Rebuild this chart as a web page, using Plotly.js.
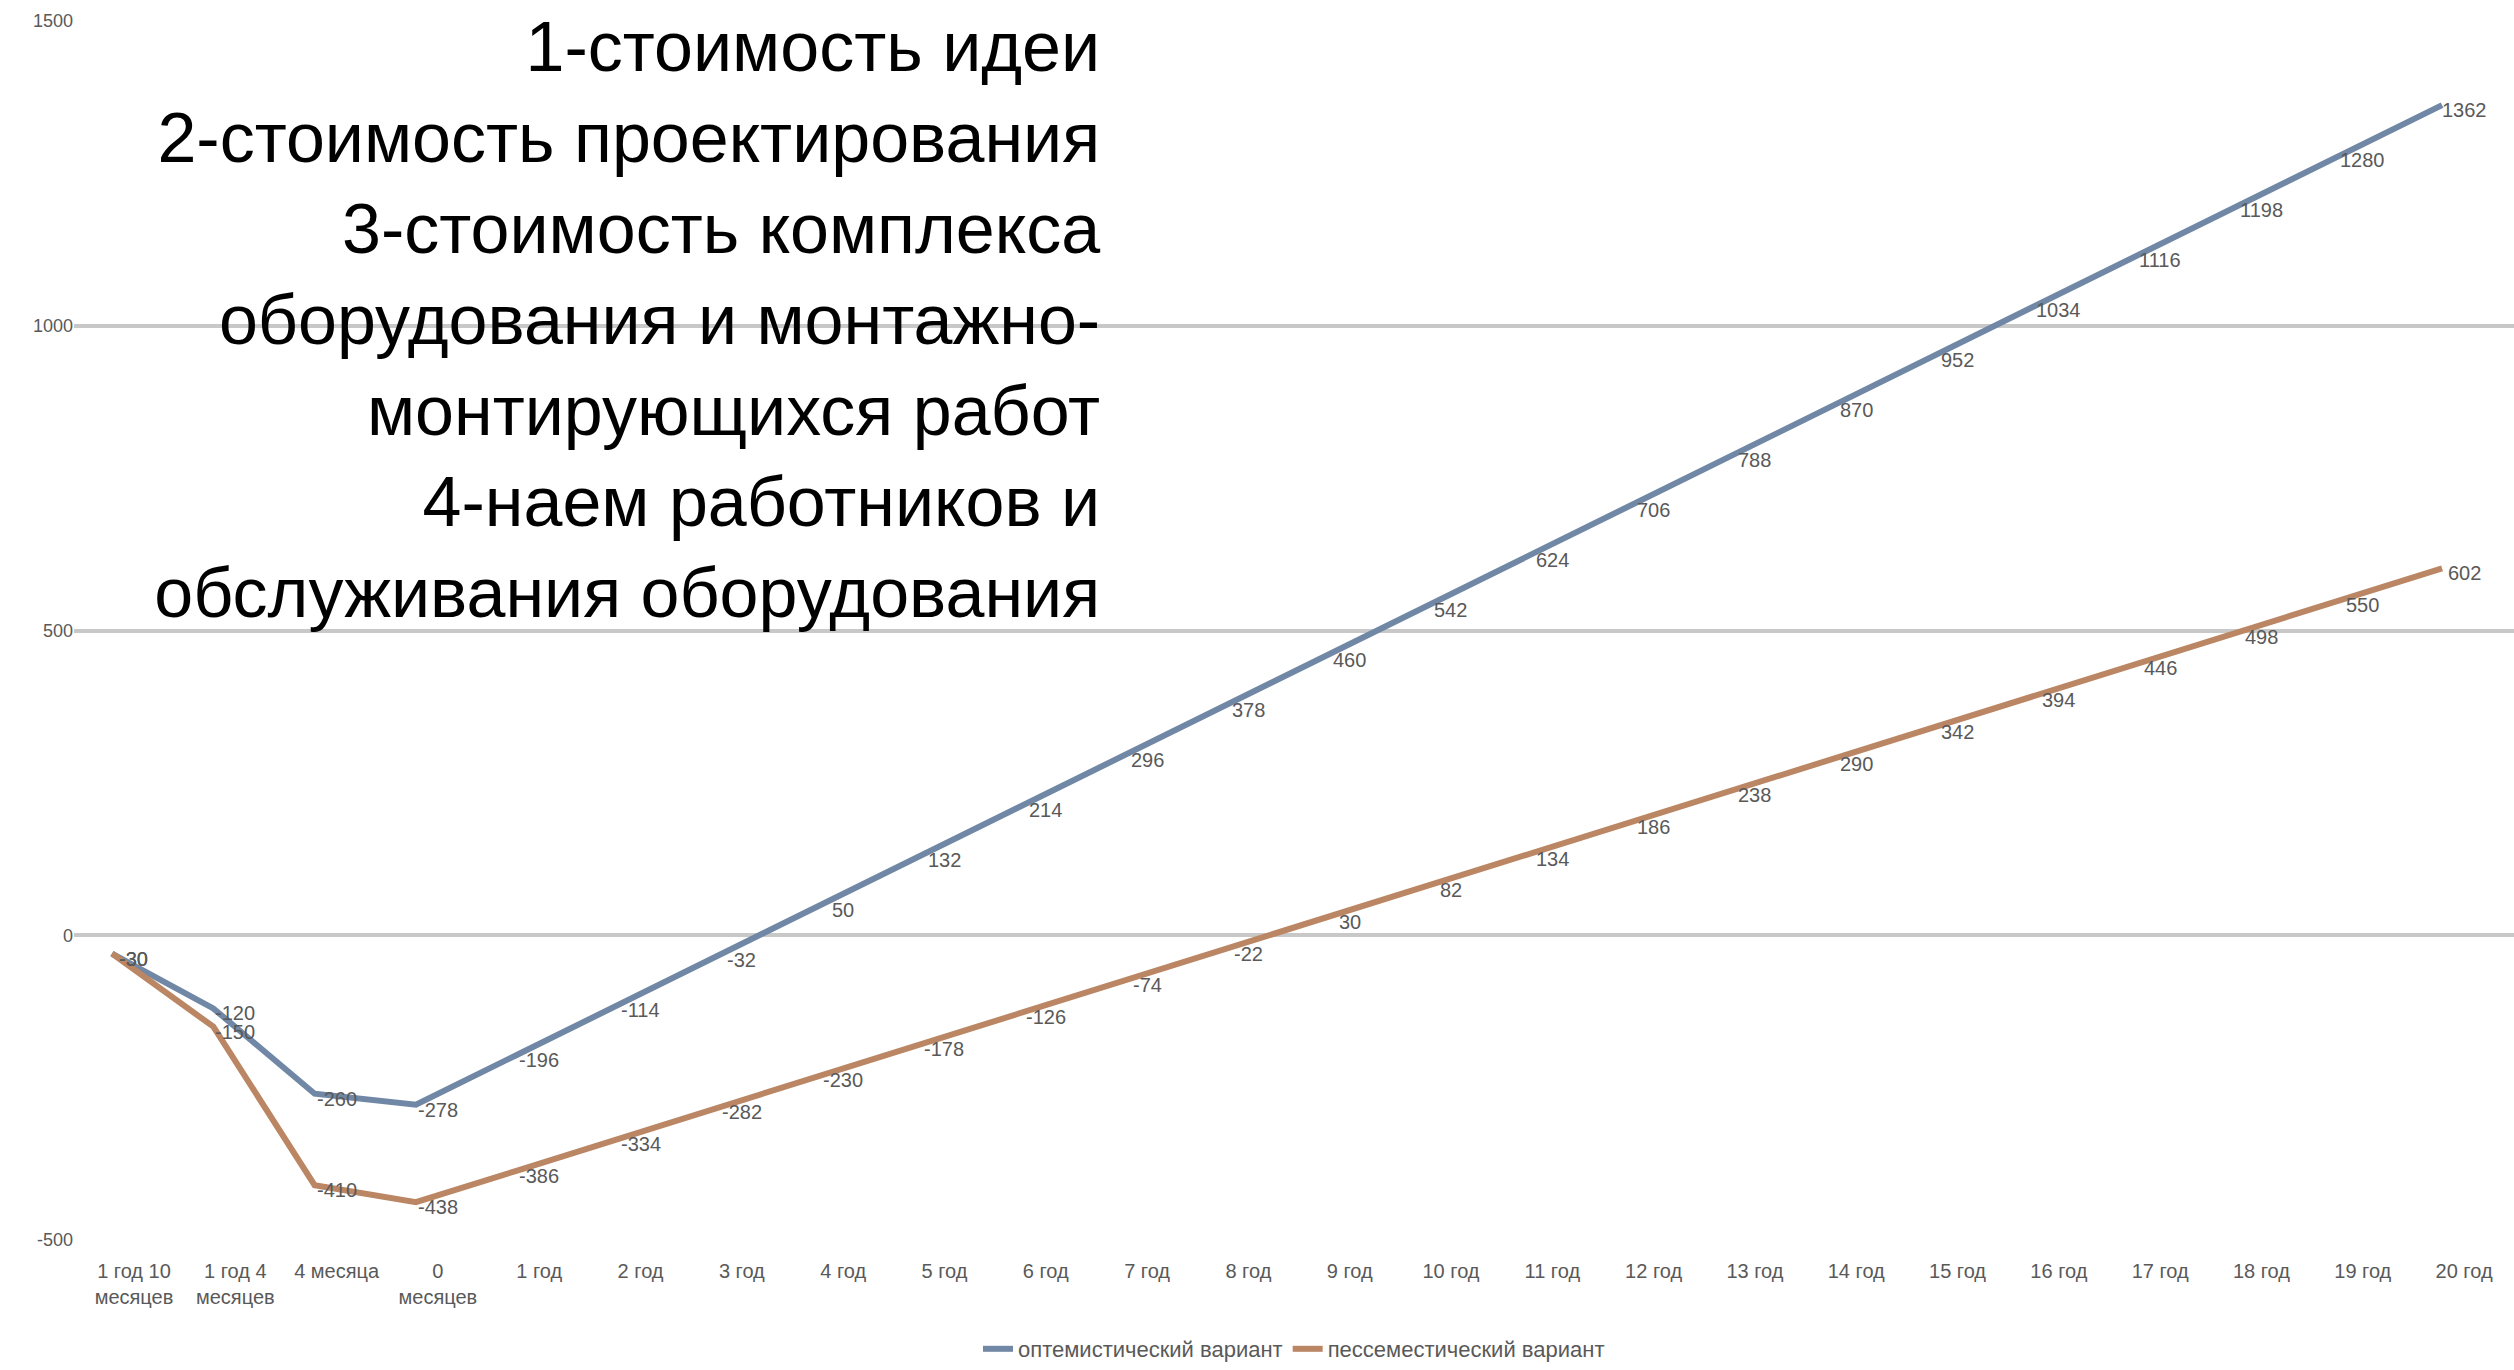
<!DOCTYPE html>
<html>
<head>
<meta charset="utf-8">
<script src="https://cdn.plot.ly/plotly-3.0.1.min.js"></script>
<style>html,body{margin:0;padding:0;background:#fff;}#chart{width:2514px;height:1370px;}</style>
</head>
<body>
<div id="chart"></div>
<script>
const categories = [
  "1 год 10<br>месяцев", "1 год 4<br>месяцев", "4 месяца", "0<br>месяцев",
  "1 год", "2 год", "3 год", "4 год", "5 год", "6 год", "7 год", "8 год",
  "9 год", "10 год", "11 год", "12 год", "13 год", "14 год", "15 год",
  "16 год", "17 год", "18 год", "19 год", "20 год"
];
const optimistic = [-30, -120, -260, -278, -196, -114, -32, 50, 132, 214, 296, 378,
  460, 542, 624, 706, 788, 870, 952, 1034, 1116, 1198, 1280, 1362];
const pessimistic = [-30, -150, -410, -438, -386, -334, -282, -230, -178, -126, -74, -22,
  30, 82, 134, 186, 238, 290, 342, 394, 446, 498, 550, 602];
const seriesNames = ["оптемистический вариант", "пессеместический вариант"];
const titleLines = [
  "1-стоимость идеи",
  "2-стоимость проектирования",
  "3-стоимость комплекса",
  "оборудования и монтажно-",
  "монтирующихся работ",
  "4-наем работников и",
  "обслуживания оборудования"
];
const yTicks = [-500, 0, 500, 1000, 1500];

const xIdx = categories.map((c, i) => i);
const labelFont = {family: "Liberation Sans, sans-serif", size: 20, color: "#595959"};
const colors = ["#7088A6", "#BA8664"];

const traces = [
  {
    x: xIdx, y: optimistic, name: seriesNames[0], type: "scatter", mode: "lines",
    line: {color: colors[0], width: 6}
  },
  {
    x: xIdx, y: pessimistic, name: seriesNames[1], type: "scatter", mode: "lines",
    line: {color: colors[1], width: 6}
  }
];

const annotations = [];
[optimistic, pessimistic].forEach(series => {
  series.forEach((v, i) => {
    annotations.push({
      x: i, y: v, xref: "x", yref: "y", text: String(v), showarrow: false,
      xanchor: "center", yanchor: "middle", xshift: 22, yshift: -5,
      font: labelFont
    });
  });
});

const layout = {
  width: 2514, height: 1370,
  margin: {l: 74, r: 0, t: 21, b: 130},
  paper_bgcolor: "#ffffff", plot_bgcolor: "#ffffff",
  title: {
    text: titleLines.join("<br>"),
    x: 0.4376, xanchor: "right", xref: "container",
    y: 0.948, yanchor: "top", yref: "container",
    font: {family: "Liberation Sans, sans-serif", size: 70, color: "#000000"}
  },
  xaxis: {
    type: "linear", range: [-0.375, 23.71],
    tickvals: xIdx, ticktext: categories,
    showgrid: false, zeroline: false, showline: false,
    ticks: "", tickangle: 0, ticklabelshift: 22, ticklabelstandoff: 17,
    tickfont: {family: "Liberation Sans, sans-serif", size: 20, color: "#595959"}
  },
  yaxis: {
    range: [-500, 1500], tickvals: yTicks, ticktext: yTicks.map(String),
    showgrid: true, gridcolor: "#c8c8c8", gridwidth: 4,
    zeroline: false, showline: false, ticks: "",
    tickfont: {family: "Liberation Sans, sans-serif", size: 18, color: "#595959"}
  },
  annotations: annotations,
  showlegend: true,
  legend: {
    orientation: "h", x: 0.5, xanchor: "center", xref: "paper",
    y: 0.0, yanchor: "bottom", yref: "container",
    font: {family: "Liberation Sans, sans-serif", size: 22, color: "#595959"}
  }
};

Plotly.newPlot("chart", traces, layout, {displayModeBar: false, staticPlot: true});
</script>
</body>
</html>
